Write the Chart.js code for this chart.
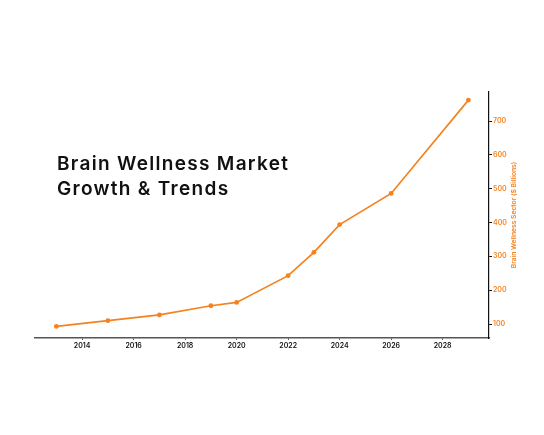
<!DOCTYPE html>
<html>
<head>
<meta charset="utf-8">
<script src="https://cdn.jsdelivr.net/npm/chart.js@4.4.0/dist/chart.umd.min.js"></script>
<style>
  html, body { margin:0; padding:0; background:#ffffff; }
  #wrap { position:relative; width:544px; height:435px; }
  #title { position:absolute; left:57px; top:151px; font-family:Inter, "Open Sans", sans-serif; font-weight:600; font-size:19px; line-height:25px; color:#111; letter-spacing:1.3px; white-space:nowrap; }
</style>
</head>
<body>
<div id="wrap">
  <canvas id="c" width="544" height="435"></canvas>
  <div id="title">Brain Wellness Market<br>Growth &amp; Trends</div>
</div>
<script>
const years = [2013, 2015, 2017, 2019, 2020, 2022, 2023, 2024, 2026, 2029];
const marketValues = [93, 110, 127, 154, 164, 243, 312, 394, 486, 762];
const xTickLabels = [2014, 2016, 2018, 2020, 2022, 2024, 2026, 2028];
const yTickLabels = [100, 200, 300, 400, 500, 600, 700];
const yAxisTitle = 'Brain Wellness Sector ($ Billions)';

const orange = '#f5821f';
const points = years.map((y, i) => ({ x: y, y: marketValues[i] }));

const yTitlePlugin = {
  id: 'yTitle',
  afterDraw(chart) {
    const ctx = chart.ctx;
    const area = chart.chartArea;
    ctx.save();
    ctx.translate(514, (area.top + area.bottom) / 2);
    ctx.rotate(-Math.PI / 2);
    ctx.fillStyle = orange;
    ctx.font = '600 6.7px Inter, "Open Sans", sans-serif';
    ctx.textAlign = 'center';
    ctx.textBaseline = 'middle';
    ctx.fillText(yAxisTitle, 0, 0);
    ctx.restore();
  }
};

new Chart(document.getElementById('c'), {
  type: 'line',
  data: {
    datasets: [{
      data: points,
      borderColor: orange,
      backgroundColor: orange,
      borderWidth: 1.7,
      pointRadius: 2.4,
      pointBorderWidth: 0,
      pointBackgroundColor: orange,
      tension: 0
    }]
  },
  plugins: [yTitlePlugin],
  options: {
    responsive: false,
    animation: false,
    devicePixelRatio: 1,
    layout: { padding: { left: 35, top: 92, right: 0, bottom: 0 } },
    plugins: { legend: { display: false }, tooltip: { enabled: false } },
    scales: {
      x: {
        type: 'linear',
        min: 2012.17,
        max: 2029.8,
        afterFit: s => { s.height = 97; },
        afterBuildTicks: s => { s.ticks = xTickLabels.map(v => ({ value: v })); },
        grid: { display: true, drawOnChartArea: false, drawTicks: true, tickLength: 2, color: '#555', lineWidth: 1 },
        border: { display: true, color: '#555', width: 1.5 },
        ticks: {
          color: '#111',
          font: { family: 'Inter, "Open Sans", sans-serif', size: 7, weight: '600' },
          padding: 2,
          maxRotation: 0,
          callback: v => String(v)
        }
      },
      y: {
        position: 'right',
        min: 58.7,
        max: 786,
        afterFit: s => { s.width = 55; },
        afterBuildTicks: s => { s.ticks = yTickLabels.map(v => ({ value: v })); },
        grid: { display: true, drawOnChartArea: false, drawTicks: true, tickLength: 3, color: '#111', lineWidth: 1 },
        border: { display: true, color: '#111', width: 1.2 },
        title: { display: false },
        ticks: {
          color: orange,
          font: { family: 'Inter, "Open Sans", sans-serif', size: 7, weight: '600' },
          padding: 1,
          callback: v => String(v)
        }
      }
    }
  }
});
</script>
</body>
</html>
